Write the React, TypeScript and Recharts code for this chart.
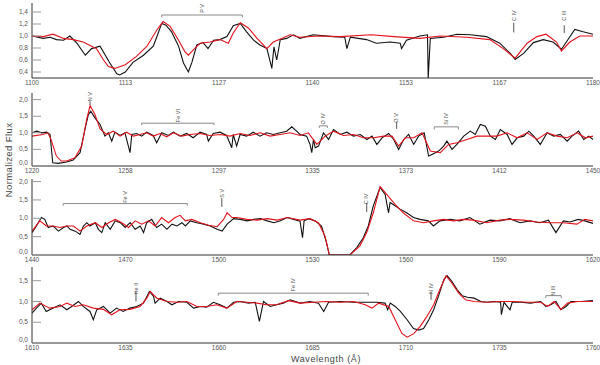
import { LineChart, Line, XAxis, YAxis, ReferenceLine, ReferenceDot } from "recharts"

type Pt = [number, number]
type Ident = { label: string, from: number, to?: number, bar: number, foot: number, textY: number }

// observed spectrum (black) and model (red), [wavelength, flux]
const obs1: Pt[] = [[1100.0,1.00],[1101.6,0.96],[1102.6,0.98],[1103.5,0.94],[1104.5,0.93],[1105.4,1.00],[1106.4,0.88],[1107.6,0.68],[1108.5,0.79],[1109.7,0.83],[1111.1,0.55],[1112.1,0.37],[1112.5,0.35],[1113.3,0.40],[1114.4,0.56],[1115.9,0.68],[1117.3,0.83],[1118.0,1.05],[1118.5,1.21],[1119.1,1.18],[1119.9,1.07],[1120.9,0.83],[1121.6,0.55],[1122.3,0.40],[1122.8,0.56],[1123.5,0.85],[1124.4,0.89],[1125.1,0.79],[1125.9,0.93],[1126.8,0.94],[1127.8,0.99],[1128.7,1.17],[1129.7,1.21],[1130.6,1.07],[1131.6,0.93],[1132.5,0.85],[1133.5,0.79],[1134.2,0.46],[1134.5,0.82],[1134.9,0.60],[1135.4,0.94],[1136.3,0.96],[1137.3,1.02],[1138.2,0.96],[1140.1,1.02],[1142.9,0.99],[1144.6,0.98],[1144.9,0.79],[1145.4,0.98],[1147.7,0.94],[1149.1,0.88],[1151.1,0.90],[1152.5,0.88],[1152.7,0.79],[1153.4,0.93],[1155.3,1.00],[1156.4,1.02],[1156.5,0.30],[1156.8,0.96],[1158.7,0.98],[1160.6,1.03],[1162.5,1.02],[1164.8,0.99],[1166.7,0.88],[1168.2,0.71],[1168.9,0.61],[1170.1,0.71],[1171.5,0.89],[1172.9,0.94],[1174.3,0.90],[1175.5,0.78],[1176.2,0.90],[1177.4,1.11],[1178.6,1.07],[1180.0,1.03]]
const mod1: Pt[] = [[1100.0,1.00],[1101.6,0.99],[1103.0,1.03],[1104.5,0.96],[1105.9,0.94],[1107.3,0.90],[1108.5,0.83],[1109.2,0.79],[1110.2,0.60],[1110.9,0.49],[1111.8,0.46],[1113.3,0.52],[1114.9,0.66],[1116.4,0.83],[1117.8,1.10],[1118.7,1.24],[1119.7,1.16],[1120.9,0.93],[1121.8,0.74],[1122.3,0.68],[1123.0,0.77],[1124.0,0.88],[1125.4,0.90],[1126.8,0.94],[1128.0,0.88],[1128.7,1.05],[1129.7,1.22],[1130.9,1.13],[1132.1,0.96],[1133.5,0.79],[1134.4,0.90],[1135.6,0.96],[1136.8,1.02],[1138.2,0.98],[1141.0,1.00],[1143.9,0.99],[1148.4,1.02],[1151.6,0.99],[1155.3,0.96],[1158.2,1.00],[1162.0,0.98],[1165.3,0.94],[1167.2,0.79],[1168.9,0.63],[1170.6,0.88],[1172.0,0.99],[1173.3,1.03],[1174.8,0.90],[1175.5,0.75],[1176.7,0.90],[1178.1,1.00],[1180.0,1.00]]

const obs2: Pt[] = [[1220.0,1.00],[1221.9,1.05],[1224.0,1.00],[1226.0,1.02],[1227.4,0.95],[1228.5,0.10],[1230.8,0.08],[1234.2,0.12],[1236.9,0.18],[1239.7,0.40],[1241.7,1.10],[1243.1,1.55],[1244.1,1.65],[1245.8,1.45],[1247.9,1.25],[1249.9,0.90],[1251.3,1.00],[1252.7,0.75],[1254.0,1.02],[1256.1,0.92],[1258.1,1.00],[1260.2,0.40],[1260.9,0.95],[1262.9,0.98],[1265.0,0.90],[1267.0,1.02],[1269.7,0.92],[1271.1,0.70],[1273.2,1.00],[1275.9,0.92],[1278.0,1.02],[1280.7,0.90],[1283.4,0.98],[1286.1,0.85],[1288.9,1.02],[1291.6,0.95],[1292.3,0.75],[1294.3,0.98],[1297.1,1.02],[1299.8,0.92],[1301.9,0.55],[1302.5,0.95],[1303.9,0.60],[1305.3,0.95],[1308.0,0.90],[1310.7,1.02],[1313.5,0.90],[1316.2,1.00],[1318.9,0.95],[1321.7,1.00],[1324.4,1.05],[1326.5,1.18],[1328.5,1.05],[1329.9,0.95],[1332.6,0.90],[1334.0,0.65],[1334.7,0.40],[1335.4,0.80],[1336.1,0.55],[1337.5,0.60],[1339.5,1.00],[1341.6,0.80],[1343.6,1.10],[1346.4,0.95],[1349.1,1.02],[1351.8,0.90],[1354.6,0.95],[1357.3,0.80],[1359.4,0.90],[1361.4,0.65],[1363.5,0.85],[1366.2,0.98],[1368.3,0.80],[1370.3,0.50],[1372.4,0.80],[1374.4,0.95],[1376.5,0.65],[1378.5,0.90],[1380.8,1.00],[1382.6,0.30],[1384.0,0.35],[1386.7,0.45],[1388.8,0.60],[1390.1,0.75],[1392.2,0.50],[1394.2,0.65],[1397.0,0.90],[1399.7,1.05],[1401.7,0.95],[1403.8,1.25],[1405.9,1.20],[1407.9,0.90],[1410.0,0.80],[1412.0,1.10],[1414.8,0.95],[1416.8,0.65],[1418.9,0.85],[1421.6,0.90],[1423.7,1.05],[1425.7,0.90],[1428.4,0.65],[1431.2,1.00],[1433.9,0.90],[1436.6,0.95],[1439.4,0.75],[1441.4,0.90],[1444.1,1.05],[1446.2,0.80],[1448.3,0.90],[1450.0,0.80]]
const mod2: Pt[] = [[1220.0,0.90],[1224.5,0.95],[1226.5,1.00],[1227.8,0.80],[1230.0,0.30],[1232.0,0.15],[1234.2,0.15],[1237.6,0.25],[1240.4,0.60],[1242.4,1.40],[1243.8,1.82],[1245.8,1.55],[1247.9,1.12],[1250.6,0.95],[1253.3,1.05],[1256.1,0.90],[1258.8,1.02],[1261.5,0.90],[1264.3,0.95],[1267.0,1.00],[1269.7,0.90],[1272.5,0.98],[1275.2,0.88],[1278.0,1.00],[1281.4,0.90],[1284.7,0.95],[1288.9,0.98],[1293.0,0.92],[1297.1,0.95],[1301.2,0.90],[1305.3,0.98],[1309.4,0.92],[1313.5,1.00],[1317.6,0.90],[1321.7,0.95],[1325.8,1.00],[1329.9,0.92],[1333.3,1.00],[1336.8,0.65],[1340.2,0.90],[1343.6,1.05],[1347.7,0.92],[1351.8,0.95],[1355.9,0.85],[1360.0,0.85],[1364.2,0.90],[1367.6,0.90],[1370.3,0.60],[1373.1,0.85],[1376.5,0.85],[1379.9,1.00],[1383.3,0.45],[1387.4,0.40],[1390.8,0.65],[1394.2,0.70],[1398.3,0.80],[1402.4,0.90],[1406.5,0.90],[1410.6,0.90],[1414.8,1.00],[1418.9,0.85],[1423.0,1.00],[1427.1,0.80],[1431.2,1.00],[1435.3,0.90],[1439.4,0.85],[1443.5,1.00],[1446.9,0.85],[1450.0,0.90]]

const obs3: Pt[] = [[1440.0,0.61],[1441.4,0.79],[1443.0,1.02],[1444.1,0.97],[1445.2,0.75],[1446.8,0.79],[1448.5,0.65],[1450.1,0.75],[1451.2,0.79],[1452.2,0.70],[1453.9,0.65],[1455.4,0.56],[1456.5,0.79],[1457.6,0.88],[1458.6,0.79],[1460.3,0.88],[1461.3,0.70],[1462.4,0.61],[1463.5,0.88],[1465.1,0.70],[1466.7,0.93],[1468.3,0.88],[1469.9,0.75],[1471.5,0.88],[1473.1,0.70],[1474.7,0.79],[1475.8,0.61],[1476.8,0.88],[1478.4,0.97],[1480.0,0.75],[1481.6,0.84],[1483.3,0.70],[1484.9,0.84],[1486.5,0.79],[1488.1,0.88],[1489.2,0.79],[1490.8,0.93],[1492.9,0.88],[1495.1,0.84],[1497.2,0.79],[1499.4,0.70],[1501.0,0.65],[1502.6,0.84],[1504.7,0.99],[1506.9,0.97],[1509.0,0.93],[1511.2,0.97],[1513.3,0.99],[1515.5,0.93],[1517.6,0.88],[1519.7,0.93],[1521.9,1.02],[1524.0,0.97],[1526.0,0.92],[1526.8,0.47],[1527.3,0.93],[1528.7,0.99],[1530.8,0.93],[1532.9,0.79],[1534.5,0.34],[1535.4,0.00],[1537.7,0.00],[1542.0,0.00],[1544.2,0.20],[1546.3,0.47],[1547.9,0.79],[1549.5,1.34],[1551.7,1.84],[1553.3,1.65],[1554.4,1.15],[1554.9,1.43],[1556.5,1.34],[1558.1,1.25],[1560.2,1.15],[1562.4,1.02],[1564.5,0.97],[1567.2,0.93],[1568.8,0.79],[1570.9,0.93],[1574.1,0.97],[1577.3,0.93],[1580.5,1.02],[1583.7,0.84],[1586.9,0.95],[1590.1,0.93],[1593.3,0.99],[1596.6,0.88],[1599.8,0.93],[1603.0,0.88],[1605.7,0.95],[1608.1,0.61],[1610.5,0.93],[1612.6,0.90],[1615.3,0.97],[1617.4,0.93],[1620.0,0.86]]
const mod3: Pt[] = [[1440.0,0.65],[1442.5,0.93],[1444.6,0.79],[1446.8,0.79],[1448.9,0.75],[1451.2,0.79],[1453.3,0.79],[1455.4,0.65],[1457.6,0.79],[1460.3,0.88],[1462.4,0.75],[1464.6,0.88],[1466.7,0.97],[1468.8,0.88],[1471.0,0.75],[1473.1,0.93],[1475.2,0.84],[1477.4,0.93],[1479.5,0.79],[1481.6,1.02],[1483.8,0.88],[1485.9,1.02],[1487.5,1.08],[1489.2,0.93],[1491.3,0.97],[1494.0,0.88],[1496.7,0.81],[1499.4,0.77],[1501.5,0.97],[1502.6,1.15],[1504.2,1.02],[1505.8,1.02],[1509.0,0.97],[1512.2,0.95],[1515.5,0.99],[1518.7,0.95],[1521.9,1.02],[1526.0,0.95],[1529.2,0.99],[1531.9,0.88],[1534.0,0.52],[1535.4,0.00],[1542.0,0.00],[1545.2,0.25],[1547.4,0.61],[1549.5,1.15],[1551.7,1.86],[1553.8,1.65],[1556.5,1.38],[1559.1,1.15],[1562.4,0.93],[1565.6,0.88],[1568.8,0.93],[1572.0,0.97],[1575.2,0.93],[1578.4,0.97],[1581.6,0.95],[1585.9,0.88],[1590.1,0.95],[1593.3,0.97],[1597.6,0.95],[1601.9,0.90],[1606.2,0.88],[1610.5,0.88],[1614.8,0.84],[1617.4,0.97],[1620.0,0.93]]

const obs4: Pt[] = [[1610.0,0.72],[1611.2,0.84],[1612.5,0.96],[1613.8,0.76],[1615.7,0.84],[1617.5,0.92],[1619.3,0.80],[1620.6,0.88],[1622.4,1.00],[1623.7,0.88],[1625.5,0.76],[1626.4,0.56],[1627.3,0.80],[1629.1,0.88],[1630.9,0.72],[1632.6,0.84],[1634.4,0.76],[1636.2,0.84],[1638.0,0.88],[1639.8,0.96],[1641.4,1.24],[1642.5,1.12],[1642.9,0.96],[1644.3,1.08],[1646.1,1.00],[1647.4,0.92],[1649.2,1.00],[1651.4,0.98],[1653.2,0.84],[1655.0,0.88],[1656.7,0.86],[1658.5,0.98],[1660.3,0.92],[1662.1,0.84],[1663.9,0.98],[1665.7,1.00],[1667.9,0.96],[1669.7,0.98],[1670.8,0.52],[1671.9,1.00],[1673.7,0.88],[1675.4,0.92],[1677.2,0.96],[1679.0,1.04],[1681.7,0.96],[1684.3,1.00],[1686.6,0.96],[1688.0,0.76],[1689.3,0.98],[1692.4,1.00],[1696.0,0.98],[1699.5,0.98],[1702.2,0.98],[1704.4,0.96],[1705.1,0.80],[1705.8,0.96],[1707.1,0.88],[1708.5,0.76],[1710.3,0.56],[1712.0,0.35],[1713.4,0.31],[1714.7,0.35],[1716.1,0.56],[1717.4,0.80],[1718.8,1.16],[1720.1,1.52],[1721.0,1.62],[1722.3,1.48],[1723.7,1.28],[1725.0,1.14],[1726.4,1.10],[1728.2,1.08],[1730.0,1.00],[1731.7,0.98],[1733.5,1.00],[1735.3,0.98],[1735.5,0.68],[1736.2,0.98],[1737.8,0.80],[1738.4,0.98],[1740.7,0.98],[1743.3,0.96],[1746.0,1.00],[1747.4,0.88],[1748.7,0.92],[1750.1,1.00],[1751.4,0.80],[1752.8,0.88],[1754.1,1.00],[1756.8,1.00],[1760.0,1.02]]
const mod4: Pt[] = [[1610.0,0.80],[1612.1,0.96],[1614.7,0.84],[1617.5,0.88],[1619.3,0.96],[1621.5,0.88],[1623.7,0.92],[1626.4,0.84],[1629.1,0.81],[1631.3,0.68],[1633.5,0.80],[1636.2,0.81],[1638.9,0.88],[1640.7,1.08],[1641.6,1.24],[1643.4,1.08],[1646.1,1.00],[1648.8,0.98],[1651.4,1.00],[1654.1,0.88],[1656.7,0.88],[1659.4,0.92],[1662.1,0.84],[1664.8,1.00],[1667.5,0.98],[1670.1,0.96],[1672.8,0.92],[1675.4,0.92],[1678.6,1.02],[1681.7,0.96],[1685.2,0.98],[1688.8,1.00],[1692.4,0.98],[1696.0,1.00],[1699.1,0.92],[1700.9,0.84],[1702.7,0.96],[1705.4,0.88],[1707.1,0.56],[1708.9,0.23],[1710.3,0.14],[1712.0,0.22],[1713.8,0.40],[1715.6,0.64],[1717.4,0.92],[1719.2,1.32],[1720.7,1.62],[1722.3,1.44],[1724.1,1.20],[1725.9,1.04],[1728.2,1.00],[1731.7,0.98],[1735.3,1.00],[1738.9,1.00],[1742.5,0.98],[1746.0,0.98],[1747.9,0.88],[1749.6,1.00],[1751.4,0.81],[1753.2,0.96],[1755.9,1.00],[1760.0,1.00]]

// tick values
const xTicks1 = [1100, 1113.33, 1126.67, 1140, 1153.33, 1166.67, 1180]
const xTicks2 = [1220, 1258.33, 1296.67, 1335, 1373.33, 1411.67, 1450]
const xTicks3 = [1440, 1470, 1500, 1530, 1560, 1590, 1620]
const xTicks4 = [1610, 1635, 1660, 1685, 1710, 1735, 1760]
const yTicks1 = [0.4, 0.6, 0.8, 1.0, 1.2, 1.4]
const yTicks2 = [0, 0.5, 1.0, 1.5, 2.0]
const yTicks4 = [0, 0.5, 1.0, 1.5]

// line identifications
const ids1: Ident[] = [
  { label: "P V", from: 1118.5, to: 1130, bar: 1.35, foot: 1.31, textY: 1.46 },
  { label: "C IV", from: 1168.7, bar: 1.22, foot: 1.06, textY: 1.34 },
  { label: "C III", from: 1175.9, bar: 1.18, foot: 1.05, textY: 1.34 },
]
const ids2: Ident[] = [
  { label: "N V", from: 1243.8, bar: 1.95, foot: 1.84, textY: 2.09 },
  { label: "Fe VI", from: 1265, to: 1294.6, bar: 1.29, foot: 1.23, textY: 1.52 },
  { label: "O IV", from: 1337.8, to: 1341.1, bar: 1.21, foot: 1.15, textY: 1.42 },
  { label: "O V", from: 1369.5, bar: 1.33, foot: 1.12, textY: 1.45 },
  { label: "Si IV", from: 1384.9, to: 1394.8, bar: 1.18, foot: 1.1, textY: 1.42 },
]
const ids3: Ident[] = [
  { label: "Fe V", from: 1450, to: 1489.8, bar: 1.4, foot: 1.34, textY: 1.58 },
  { label: "S V", from: 1500.9, bar: 1.55, foot: 1.31, textY: 1.68 },
  { label: "C IV", from: 1547.4, bar: 1.42, foot: 1.17, textY: 1.53 },
]
const ids4: Ident[] = [
  { label: "He II", from: 1637.8, bar: 1.23, foot: 1.0, textY: 1.31 },
  { label: "Fe IV", from: 1659.8, to: 1699.9, bar: 1.2, foot: 1.14, textY: 1.4 },
  { label: "N IV", from: 1716.7, bar: 1.23, foot: 1.04, textY: 1.31 },
  { label: "N III", from: 1747.4, to: 1751.5, bar: 1.14, foot: 1.08, textY: 1.26 },
]

const panels = [
  { obs: obs1, mod: mod1, xDomain: [1100, 1180], xTicks: xTicks1, yDomain: [0.3, 1.55], yTicks: yTicks1, top: 3, plotH: 75, ids: ids1 },
  { obs: obs2, mod: mod2, xDomain: [1220, 1450], xTicks: xTicks2, yDomain: [0, 2.2], yTicks: yTicks2, top: 93, plotH: 73, ids: ids2 },
  { obs: obs3, mod: mod3, xDomain: [1440, 1620], xTicks: xTicks3, yDomain: [0, 2.07], yTicks: yTicks2, top: 179, plotH: 76, ids: ids3 },
  { obs: obs4, mod: mod4, xDomain: [1610, 1760], xTicks: xTicks4, yDomain: [0, 1.83], yTicks: yTicks4, top: 267, plotH: 76, ids: ids4 },
]

const FONT = "'Liberation Sans', Arial, sans-serif"
const toRows = (pts: Pt[]) => pts.map(([w, f]) => ({ w, f }))
const fmt = (v: number) => v.toFixed(1).replace(".", ",")

const LeftTick = (props: any) => {
  const { x, y, payload, low } = props
  // bottom label sits a bit higher so it clears the x labels
  const lift = payload.value === low ? -3 : 0
  return <g>
    <line x1={x + 4} x2={x + 13} y1={y} y2={y} stroke="#999" />
    <text x={x} y={y + lift} dy="0.32em" textAnchor="end" fontSize={6.5} fill="#555" fontFamily={FONT}>{fmt(payload.value)}</text>
  </g>
}
const RightTick = (props: any) => {
  const { x, y } = props
  return <line x1={x - 10} x2={x} y1={y} y2={y} stroke="#999" />
}
const TopTick = (props: any) => {
  const { x, y } = props
  return <line x1={x} x2={x} y1={y} y2={y + 5} stroke="#888" />
}

const idLabel = (label: string) => (props: any) => {
  const { cx, cy } = props
  return <text x={cx} y={cy} dy="0.32em" textAnchor="middle" fontSize={5.5} fill="#555" fontFamily={FONT}
    transform={`rotate(-90 ${cx} ${cy})`}>{label}</text>
}

const Panel = ({ p }: { p: typeof panels[number] }) => {
  const idMarks = p.ids.flatMap((id, i) => {
    const out = []
    const mid = id.to !== undefined ? (id.from + id.to) / 2 : id.from
    if (id.to !== undefined) {
      out.push(<ReferenceLine key={`h${i}`} segment={[{ x: id.from, y: id.bar }, { x: id.to, y: id.bar }]} stroke="#888" />)
      out.push(<ReferenceLine key={`a${i}`} segment={[{ x: id.from, y: id.bar }, { x: id.from, y: id.foot }]} stroke="#888" />)
      out.push(<ReferenceLine key={`b${i}`} segment={[{ x: id.to, y: id.bar }, { x: id.to, y: id.foot }]} stroke="#888" />)
    } else {
      out.push(<ReferenceLine key={`v${i}`} segment={[{ x: id.from, y: id.bar }, { x: id.from, y: id.foot }]} stroke="#555" />)
    }
    out.push(<ReferenceDot key={`t${i}`} x={mid} y={id.textY} r={0} shape={idLabel(id.label)} />)
    return out
  })
  return <div style={{ position: "absolute", left: 0, top: p.top - 3 }}>
    <LineChart width={600} height={3 + p.plotH + 14} margin={{ top: 3, right: 7, bottom: 0, left: 0 }}>
      <XAxis dataKey="w" type="number" domain={p.xDomain} ticks={p.xTicks} allowDataOverflow interval={0}
        tickFormatter={(v: number) => String(Math.round(v))} tickLine={false} tickSize={0} tickMargin={2} height={14}
        axisLine={{ stroke: "#333" }} tick={{ fontSize: 6.5, fill: "#555", fontFamily: FONT }} />
      <XAxis xAxisId="top" orientation="top" dataKey="w" type="number" domain={p.xDomain} ticks={p.xTicks} allowDataOverflow interval={0}
        height={0} tickSize={0} tickMargin={0} tickLine={false} axisLine={{ stroke: "#aaa", strokeWidth: 1.5 }} tick={<TopTick />} />
      <YAxis type="number" domain={p.yDomain} ticks={p.yTicks} allowDataOverflow width={32} interval={0}
        tickSize={0} tickMargin={4} tickLine={false} axisLine={{ stroke: "#333" }} tick={<LeftTick low={p.yDomain[0]} />} />
      <YAxis yAxisId="r" orientation="right" type="number" domain={p.yDomain} ticks={p.yTicks} allowDataOverflow width={0} interval={0}
        tickSize={0} tickMargin={0} tickLine={false} axisLine={{ stroke: "#aaa", strokeWidth: 1.5 }} tick={<RightTick />} />
      <Line data={toRows(p.obs)} dataKey="f" type="linear" stroke="#111" strokeWidth={1.1} dot={false} isAnimationActive={false} />
      <Line data={toRows(p.mod)} dataKey="f" type="linear" stroke="#e3121b" strokeWidth={1.1} dot={false} isAnimationActive={false} />
      {idMarks}
    </LineChart>
  </div>
}

export default function App() {
  return <div style={{ position: "absolute", left: 0, top: 0, width: 600, height: 365, background: "#fff", fontFamily: FONT }}>
    {panels.map((p, i) => <Panel key={i} p={p} />)}
    <svg width={600} height={365} style={{ position: "absolute", left: 0, top: 0, pointerEvents: "none" }}>
      <text x={8} y={160} transform="rotate(-90 8 160)" textAnchor="middle" dominantBaseline="central"
        fontSize={9.5} fill="#444" fontFamily={FONT} letterSpacing={0.4}>Normalized Flux</text>
      <text x={326} y={359} textAnchor="middle" dominantBaseline="central"
        fontSize={9} fill="#444" fontFamily={FONT} letterSpacing={0.6}>Wavelength  (Å)</text>
    </svg>
  </div>
}
